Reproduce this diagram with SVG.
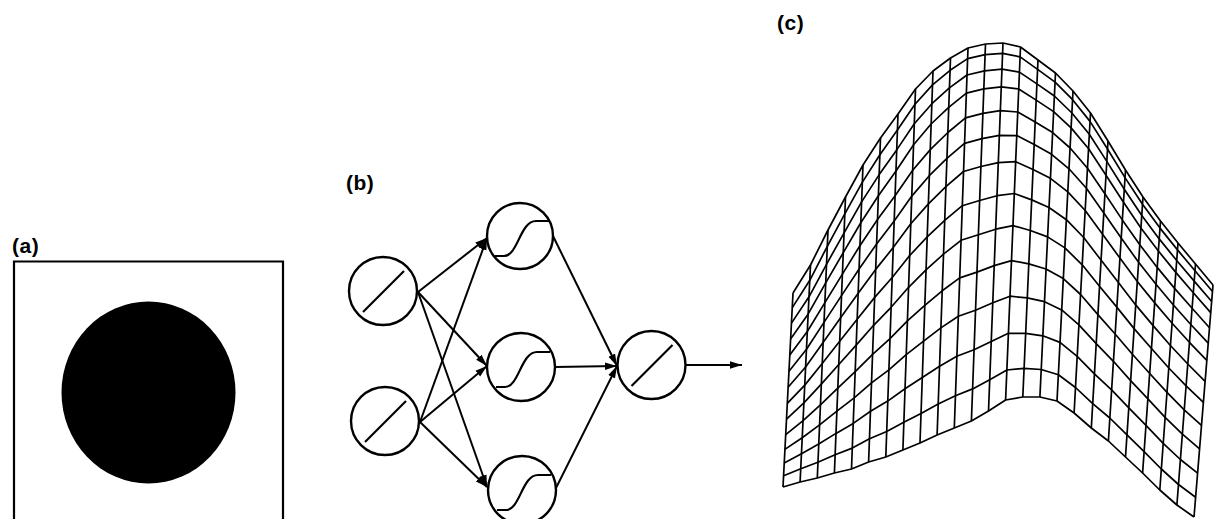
<svg xmlns="http://www.w3.org/2000/svg" width="1215" height="519" viewBox="0 0 1215 519">
<defs>
<style>
.lbl{font-family:"Liberation Sans",Arial,sans-serif;font-weight:bold;font-size:21px;letter-spacing:0.5px;fill:#000}
.node{fill:#fff;stroke:#000;stroke-width:2.4}
.glyph{fill:none;stroke:#000;stroke-width:2.2}
.edge{fill:none;stroke:#000;stroke-width:2}
.mesh{fill:none;stroke:#000;stroke-width:1.7;stroke-linejoin:round}
.edgeline{fill:none;stroke:#000;stroke-width:2.2}
</style>
<marker id="arr" markerUnits="userSpaceOnUse" markerWidth="13" markerHeight="9" refX="12" refY="4.5" orient="auto"><path d="M0,0.8 L12,4.5 L0,8.2 Z" fill="#000"/></marker>
<path id="sig" d="M-25,20 H-16 C-2,20 0,-15 16,-15 H29"/>
<path id="lin" d="M-20,21 L21,-20"/>
</defs>
<rect width="1215" height="519" fill="#fff"/>

<g id="panel-a">
<text class="lbl" x="12" y="253">(a)</text>
<path class="edgeline" d="M14,520 V261.5 H283 V520"/>
<ellipse cx="148.5" cy="392.5" rx="87" ry="91" fill="#000"/>
</g>

<g id="panel-b-label"><text class="lbl" x="346" y="190">(b)</text></g>

<g id="connectors" class="edge">
<line x1="418" y1="292" x2="487" y2="238" marker-end="url(#arr)"/>
<line x1="418" y1="292" x2="487" y2="366" marker-end="url(#arr)"/>
<line x1="418" y1="292" x2="487" y2="487" marker-end="url(#arr)"/>
<line x1="420" y1="422" x2="487" y2="238" marker-end="url(#arr)"/>
<line x1="420" y1="422" x2="487" y2="366" marker-end="url(#arr)"/>
<line x1="420" y1="422" x2="487" y2="487" marker-end="url(#arr)"/>
<line x1="553" y1="236" x2="617" y2="366" marker-end="url(#arr)"/>
<line x1="555" y1="367" x2="617" y2="366" marker-end="url(#arr)"/>
<line x1="556" y1="488" x2="617" y2="366" marker-end="url(#arr)"/>
<line x1="686" y1="365" x2="742" y2="365" marker-end="url(#arr)"/>
</g>

<g id="in1" transform="translate(383,291)"><circle class="node" r="34"/><use href="#lin" class="glyph"/></g>
<g id="in2" transform="translate(385,421)"><circle class="node" r="34"/><use href="#lin" class="glyph"/></g>
<g id="h1" transform="translate(520,236)"><circle class="node" r="33"/><use href="#sig" class="glyph"/></g>
<g id="h2" transform="translate(521,367)"><circle class="node" r="34"/><use href="#sig" class="glyph"/></g>
<g id="h3" transform="translate(522,490)"><circle class="node" r="34"/><use href="#sig" class="glyph"/></g>
<g id="out" transform="translate(651.5,365)"><circle class="node" r="34"/><use href="#lin" class="glyph"/></g>

<g id="panel-c">
<text class="lbl" x="777" y="30">(c)</text>
<path class="mesh" d="M793,293L783,487M810.5,265L800.1,482M828,230L817.3,478M845.5,197L834.4,473M863,165L851.5,469M880.5,138L868.6,462M898,114L885.8,457M915.5,89L902.9,450M933,71L920,443M950.5,58L937.1,435M968,48L954.3,428M985.5,44L971.4,421M1003,43L988.5,411M1020.5,47L1005.6,400M1038,60L1022.8,397M1055.5,73L1039.9,397M1073,91L1057,401M1090.5,113L1074.1,413M1108,141L1091.3,428M1125.5,170L1108.4,441M1143,197L1125.5,457M1160.5,221L1142.6,473M1178,243L1159.8,490M1195.5,264L1176.9,505M1213,285L1194,517"/>
<polyline class="mesh" stroke-width="2.3" points="793,293 810.5,265 828,230 845.5,197 863,165 880.5,138 898,114 915.5,89 933,71 950.5,58 968,48 985.5,44 1003,43 1020.5,47 1038,60 1055.5,73 1073,91 1090.5,113 1108,141 1125.5,170 1143,197 1160.5,221 1178,243 1195.5,264 1213,285"/>
<polyline class="mesh" points="792.3,307.6 809.8,280.3 827.3,246.3 844.8,213.8 862.4,182.1 879.9,154.7 897.4,130.1 915,104.2 932.5,84.9 950.1,70.3 967.6,58.6 985.1,54.6 1002.6,53.3 1020.1,56.9 1037.6,69.4 1055.1,82.1 1072.6,99.7 1090,121.4 1107.5,149 1125,177.6 1142.5,204.3 1160,228.1 1177.5,249.9 1195,270.7 1212.5,291.5"/>
<polyline class="mesh" points="791.5,323.1 809,296.8 826.5,264.3 844.1,232.8 861.6,201.9 879.2,174.6 896.7,149.9 914.3,123.7 931.9,103.7 949.4,87.9 967,75 984.5,70.8 1002,69.1 1019.4,72.1 1036.9,83.9 1054.4,96 1071.9,113 1089.3,134.3 1106.8,161.4 1124.3,189.2 1141.8,215.5 1159.2,238.9 1176.7,260.5 1194.2,281.1 1211.7,301.5"/>
<polyline class="mesh" points="790.6,339 808.2,313.9 825.7,282.9 843.3,252.6 860.8,222.7 878.4,195.7 896,171 913.6,144.7 931.1,124 948.7,107.3 966.4,93.2 983.8,88.9 1001.3,86.8 1018.7,89 1036.2,100.1 1053.6,111.6 1071.1,127.9 1088.6,148.7 1106,175.2 1123.5,202.2 1140.9,227.9 1158.4,251 1175.8,272.4 1193.3,292.7 1210.7,312.6"/>
<polyline class="mesh" points="789.8,355.1 807.3,331.5 824.9,302.6 842.4,274.1 859.9,245.7 877.5,219.6 895.1,195.8 912.7,170.2 930.3,149.6 947.9,132.5 965.5,117.9 982.9,113.4 1000.3,110.7 1017.8,112 1035.2,122 1052.6,132.6 1070.1,148 1087.5,168.2 1104.9,193.8 1122.3,219.9 1139.8,244.8 1157.2,267.4 1174.6,288.4 1192.1,308.3 1209.5,327.7"/>
<polyline class="mesh" points="789,371.2 806.5,349.2 824,322.4 841.5,295.6 859.1,269 876.6,243.9 894.2,220.9 911.8,196.1 929.3,175.7 946.9,158.4 964.5,143.4 982,138.6 999.4,135.4 1016.8,135.6 1034.2,144.6 1051.6,154.3 1069,168.8 1086.4,188.3 1103.8,213 1121.2,238 1138.6,262.3 1156,284.3 1173.4,305 1190.8,324.5 1208.2,343.2"/>
<polyline class="mesh" points="788.1,387.3 805.6,367 823.1,342.5 840.6,317.8 858.2,293.2 875.7,269.4 893.2,247.6 910.8,223.8 928.4,203.9 945.9,186.6 963.5,171.5 980.9,166.5 998.3,162.6 1015.7,161.7 1033,169.5 1050.4,178.3 1067.8,191.8 1085.2,210.5 1102.6,234.3 1119.9,258.1 1137.3,281.5 1154.7,302.9 1172.1,323.3 1189.4,342.3 1206.8,360.4"/>
<polyline class="mesh" points="787.3,403.4 804.8,385.1 822.2,363.5 839.7,341.3 857.2,319.2 874.7,297.4 892.2,277.5 909.7,255.5 927.2,236.8 944.7,220.3 962.3,205.7 979.6,200.5 997,195.7 1014.3,193.5 1031.7,199.9 1049,207.5 1066.4,219.7 1083.7,237.5 1101,260.1 1118.4,282.5 1135.7,304.9 1153.1,325.6 1170.4,345.5 1187.8,364 1205.1,381.3"/>
<polyline class="mesh" points="786.5,419.1 803.9,402.9 821.3,384.1 838.8,364.5 856.2,345.1 873.6,325.3 891.1,307.3 908.6,287.3 926,269.9 943.5,254.2 961,240.3 978.4,234.8 995.7,229.2 1013,225.6 1030.3,230.5 1047.6,236.9 1064.9,247.9 1082.2,264.8 1099.5,286.2 1116.8,307.1 1134.1,328.6 1151.5,348.5 1168.8,368 1186.1,385.9 1203.4,402.4"/>
<polyline class="mesh" points="785.7,434.6 803.1,420.7 820.4,404.8 837.8,388.1 855.2,371.7 872.6,354.3 890,338.7 907.4,320.9 924.8,305.4 942.2,290.8 959.7,277.9 977,272.1 994.2,265.6 1011.5,260.6 1028.8,263.9 1046,269 1063.3,278.6 1080.6,294.5 1097.9,314.6 1115.1,334 1132.4,354.3 1149.7,373.5 1167,392.4 1184.2,409.8 1201.5,425.4"/>
<polyline class="mesh" points="784.9,449.4 802.2,437.7 819.6,424.9 836.9,411.2 854.2,397.9 871.5,382.9 888.9,369.9 906.2,354.7 923.6,341.1 940.9,327.9 958.3,316.3 975.5,310.2 992.8,302.8 1010,296.2 1027.2,297.9 1044.5,301.7 1061.7,309.9 1078.9,324.8 1096.2,343.6 1113.4,361.3 1130.6,380.6 1147.9,398.9 1165.1,417.4 1182.4,434.1 1199.6,448.8"/>
<polyline class="mesh" points="784.2,463 801.5,453.7 818.7,444 836,433.4 853.2,423.4 870.5,411.3 887.7,401.1 905,388.8 922.3,377.5 939.6,366.2 956.8,356.2 974,349.7 991.2,341.4 1008.4,333.3 1025.6,333.3 1042.8,335.8 1060,342.4 1077.2,356.3 1094.4,373.8 1111.6,389.8 1128.8,407.9 1146,425.4 1163.2,443.3 1180.4,459.5 1197.6,473.2"/>
<polyline class="mesh" points="783.6,475.7 800.8,468.8 817.9,462.3 835.1,454.8 852.3,448.1 869.5,438.8 886.7,431.5 903.8,422.2 921,413.4 938.2,404 955.4,395.7 972.6,388.9 989.7,379.7 1006.9,370 1024,368.4 1041.2,369.5 1058.4,374.7 1075.5,387.5 1092.7,403.6 1109.8,418 1127,434.9 1144.1,451.6 1161.3,469 1178.5,484.5 1195.6,497.3"/>
<polyline class="mesh" points="783,487 800.1,482 817.3,478 834.4,473 851.5,469 868.6,462 885.8,457 902.9,450 920,443 937.1,435 954.3,428 971.4,421 988.5,411 1005.6,400 1022.8,397 1039.9,397 1057,401 1074.1,413 1091.3,428 1108.4,441 1125.5,457 1142.6,473 1159.8,490 1176.9,505 1194,517"/>
</g>
</svg>
